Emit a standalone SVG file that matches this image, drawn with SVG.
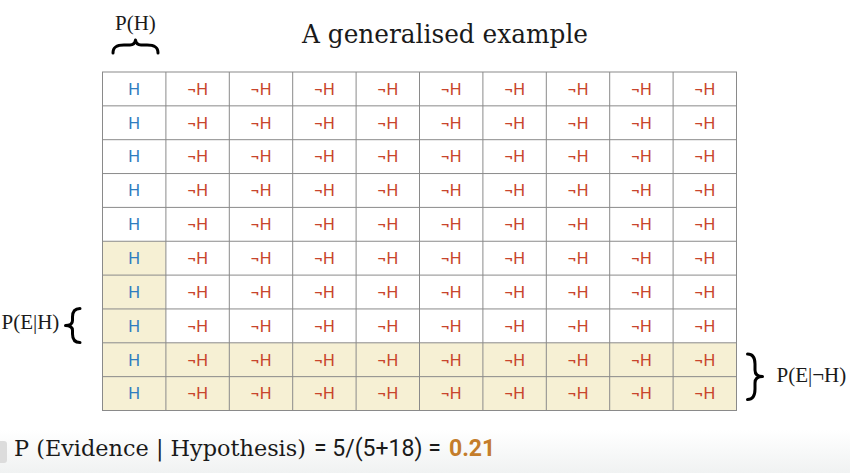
<svg xmlns="http://www.w3.org/2000/svg" width="850" height="473" viewBox="0 0 850 473">
<defs>
<style>
.h{font-family:Roboto,"Liberation Sans",sans-serif;font-size:16.5px;fill:#2f7dc0;text-anchor:middle}
.n{font-family:Roboto,"Liberation Sans",sans-serif;font-size:16.5px;fill:#c8452c;text-anchor:middle}
.lbl{font-family:"Liberation Serif",serif;font-size:21px;fill:#1a1a1a}
.slab{font-family:"DejaVu Serif",serif;fill:#1a1a1a}
.brace{fill:none;stroke:#000;stroke-width:3;stroke-linecap:round;stroke-linejoin:round}
.grid{stroke:#8a8a8a;stroke-width:1}
.hl{fill:#f6f0d4}
</style>
<linearGradient id="fade" x1="0" y1="0" x2="0" y2="1">
<stop offset="0" stop-color="#ffffff"/>
<stop offset="1" stop-color="#f0f2f2"/>
</linearGradient>
</defs>
<rect width="850" height="473" fill="#ffffff"/>
<rect x="0" y="430" width="850" height="43" fill="url(#fade)"/>
<rect x="-4" y="441" width="11" height="22" rx="3" fill="#dcdcdc"/>

<g id="title"><text class="slab" x="302" y="43" font-size="26" textLength="286" lengthAdjust="spacingAndGlyphs">A generalised example</text></g>

<g id="label-ph">
<text class="lbl" x="115" y="29.5">P(H)</text>
<path class="brace" d="M113,53 C113,46 118,45 124,45 L130,45 C133,45 135,43 135.5,40 C136,43 138,45 141,45 L147,45 C153,45 158,46 158,53"/>
</g>

<g id="highlight">
<rect class="hl" x="102.5" y="241.2" width="63.4" height="101.6"/>
<rect class="hl" x="102.5" y="342.8" width="634" height="67.7"/>
</g>

<g id="grid">
<rect x="102.5" y="72" width="634" height="338.5" fill="none" class="grid"/>
<path class="grid" d="M165.9,72V410.5M229.3,72V410.5M292.7,72V410.5M356.1,72V410.5M419.5,72V410.5M482.9,72V410.5M546.3,72V410.5M609.7,72V410.5M673.1,72V410.5M102.5,105.85H736.5M102.5,139.7H736.5M102.5,173.55H736.5M102.5,207.4H736.5M102.5,241.25H736.5M102.5,275.1H736.5M102.5,308.95H736.5M102.5,342.8H736.5M102.5,376.65H736.5"/>
</g>

<g id="cells">
<g id="row-0"><text class="h" x="134.2" y="94.7">H</text><text class="n" x="197.6" y="94.7">¬H</text><text class="n" x="261" y="94.7">¬H</text><text class="n" x="324.4" y="94.7">¬H</text><text class="n" x="387.8" y="94.7">¬H</text><text class="n" x="451.2" y="94.7">¬H</text><text class="n" x="514.6" y="94.7">¬H</text><text class="n" x="578" y="94.7">¬H</text><text class="n" x="641.4" y="94.7">¬H</text><text class="n" x="704.8" y="94.7">¬H</text></g>
<g id="row-1"><text class="h" x="134.2" y="128.6">H</text><text class="n" x="197.6" y="128.6">¬H</text><text class="n" x="261" y="128.6">¬H</text><text class="n" x="324.4" y="128.6">¬H</text><text class="n" x="387.8" y="128.6">¬H</text><text class="n" x="451.2" y="128.6">¬H</text><text class="n" x="514.6" y="128.6">¬H</text><text class="n" x="578" y="128.6">¬H</text><text class="n" x="641.4" y="128.6">¬H</text><text class="n" x="704.8" y="128.6">¬H</text></g>
<g id="row-2"><text class="h" x="134.2" y="162.4">H</text><text class="n" x="197.6" y="162.4">¬H</text><text class="n" x="261" y="162.4">¬H</text><text class="n" x="324.4" y="162.4">¬H</text><text class="n" x="387.8" y="162.4">¬H</text><text class="n" x="451.2" y="162.4">¬H</text><text class="n" x="514.6" y="162.4">¬H</text><text class="n" x="578" y="162.4">¬H</text><text class="n" x="641.4" y="162.4">¬H</text><text class="n" x="704.8" y="162.4">¬H</text></g>
<g id="row-3"><text class="h" x="134.2" y="196.3">H</text><text class="n" x="197.6" y="196.3">¬H</text><text class="n" x="261" y="196.3">¬H</text><text class="n" x="324.4" y="196.3">¬H</text><text class="n" x="387.8" y="196.3">¬H</text><text class="n" x="451.2" y="196.3">¬H</text><text class="n" x="514.6" y="196.3">¬H</text><text class="n" x="578" y="196.3">¬H</text><text class="n" x="641.4" y="196.3">¬H</text><text class="n" x="704.8" y="196.3">¬H</text></g>
<g id="row-4"><text class="h" x="134.2" y="230.1">H</text><text class="n" x="197.6" y="230.1">¬H</text><text class="n" x="261" y="230.1">¬H</text><text class="n" x="324.4" y="230.1">¬H</text><text class="n" x="387.8" y="230.1">¬H</text><text class="n" x="451.2" y="230.1">¬H</text><text class="n" x="514.6" y="230.1">¬H</text><text class="n" x="578" y="230.1">¬H</text><text class="n" x="641.4" y="230.1">¬H</text><text class="n" x="704.8" y="230.1">¬H</text></g>
<g id="row-5"><text class="h" x="134.2" y="264">H</text><text class="n" x="197.6" y="264">¬H</text><text class="n" x="261" y="264">¬H</text><text class="n" x="324.4" y="264">¬H</text><text class="n" x="387.8" y="264">¬H</text><text class="n" x="451.2" y="264">¬H</text><text class="n" x="514.6" y="264">¬H</text><text class="n" x="578" y="264">¬H</text><text class="n" x="641.4" y="264">¬H</text><text class="n" x="704.8" y="264">¬H</text></g>
<g id="row-6"><text class="h" x="134.2" y="297.8">H</text><text class="n" x="197.6" y="297.8">¬H</text><text class="n" x="261" y="297.8">¬H</text><text class="n" x="324.4" y="297.8">¬H</text><text class="n" x="387.8" y="297.8">¬H</text><text class="n" x="451.2" y="297.8">¬H</text><text class="n" x="514.6" y="297.8">¬H</text><text class="n" x="578" y="297.8">¬H</text><text class="n" x="641.4" y="297.8">¬H</text><text class="n" x="704.8" y="297.8">¬H</text></g>
<g id="row-7"><text class="h" x="134.2" y="331.7">H</text><text class="n" x="197.6" y="331.7">¬H</text><text class="n" x="261" y="331.7">¬H</text><text class="n" x="324.4" y="331.7">¬H</text><text class="n" x="387.8" y="331.7">¬H</text><text class="n" x="451.2" y="331.7">¬H</text><text class="n" x="514.6" y="331.7">¬H</text><text class="n" x="578" y="331.7">¬H</text><text class="n" x="641.4" y="331.7">¬H</text><text class="n" x="704.8" y="331.7">¬H</text></g>
<g id="row-8"><text class="h" x="134.2" y="365.6">H</text><text class="n" x="197.6" y="365.6">¬H</text><text class="n" x="261" y="365.6">¬H</text><text class="n" x="324.4" y="365.6">¬H</text><text class="n" x="387.8" y="365.6">¬H</text><text class="n" x="451.2" y="365.6">¬H</text><text class="n" x="514.6" y="365.6">¬H</text><text class="n" x="578" y="365.6">¬H</text><text class="n" x="641.4" y="365.6">¬H</text><text class="n" x="704.8" y="365.6">¬H</text></g>
<g id="row-9"><text class="h" x="134.2" y="399.4">H</text><text class="n" x="197.6" y="399.4">¬H</text><text class="n" x="261" y="399.4">¬H</text><text class="n" x="324.4" y="399.4">¬H</text><text class="n" x="387.8" y="399.4">¬H</text><text class="n" x="451.2" y="399.4">¬H</text><text class="n" x="514.6" y="399.4">¬H</text><text class="n" x="578" y="399.4">¬H</text><text class="n" x="641.4" y="399.4">¬H</text><text class="n" x="704.8" y="399.4">¬H</text></g>
</g>

<g id="label-peh">
<text class="lbl" x="1.5" y="329">P(E|H)</text>
<path class="brace" d="M80,308.5 C74,308.5 72.5,312 72.5,317 L72.5,320.5 C72.5,324 70.5,325.5 65.5,325.5 C70.5,325.5 72.5,327 72.5,330.5 L72.5,334 C72.5,339 74,342.5 80,342.5"/>
</g>

<g id="label-penh">
<path class="brace" d="M747.5,354 C753.5,354 755,358 755,364 L755,370 C755,374 757,376.5 762.5,376.5 C757,376.5 755,379 755,383 L755,389 C755,395 753.5,399.5 747.5,399.5"/>
<text class="lbl" x="776.5" y="382">P(E|¬H)</text>
</g>

<g id="formula">
<text class="slab" x="14" y="455.5" font-size="22" textLength="292" lengthAdjust="spacingAndGlyphs">P (Evidence | Hypothesis)</text>
<text x="314" y="455.5" font-family="Roboto,'Liberation Sans',sans-serif" font-size="23" fill="#1a1a1a">= 5/(5+18) =</text>
<text x="449" y="455.5" font-family="Roboto,'Liberation Sans',sans-serif" font-size="23" font-weight="bold" fill="#c47d2b">0.21</text>
</g>
</svg>
